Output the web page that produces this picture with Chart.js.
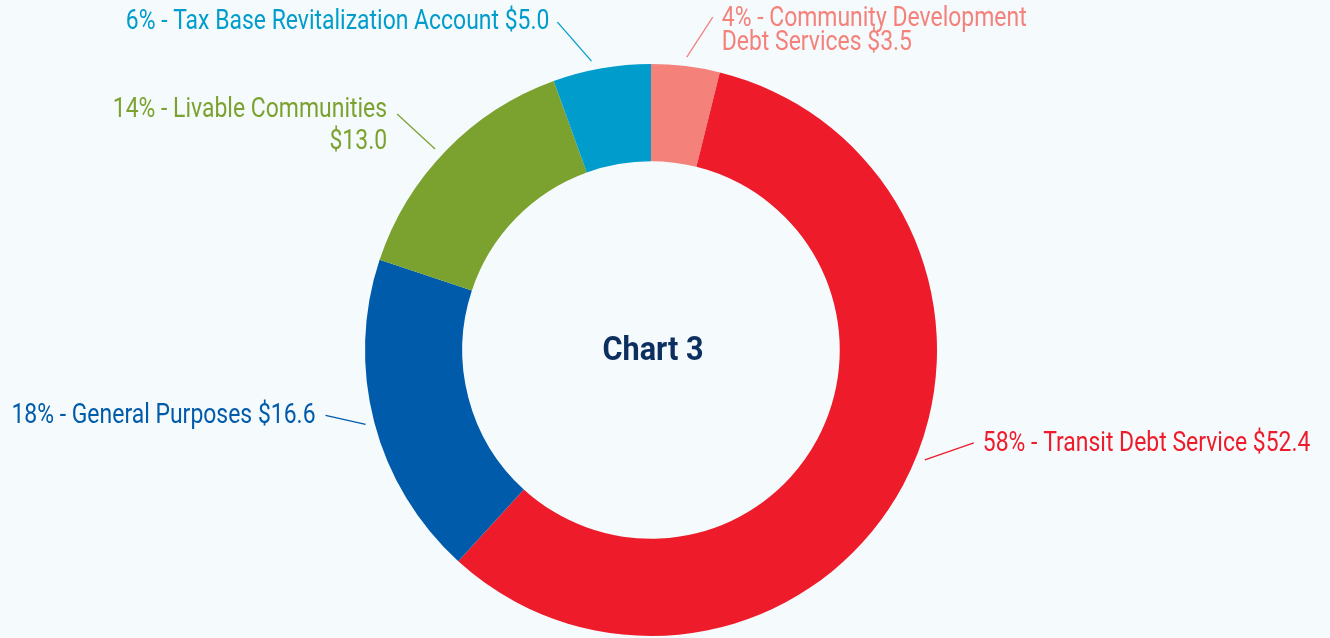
<!DOCTYPE html>
<html lang="en">
<head>
    <meta charset="UTF-8">
    <title>Chart 3</title>
    <script src="https://cdn.jsdelivr.net/npm/chart.js"></script>
    <style>
        * {
            margin: 0;
            padding: 0;
            box-sizing: border-box;
        }
        body {
            background-color: #f5fafd;
            width: 1330px;
            height: 638px;
            overflow: hidden;
        }
        .chart-container {
            position: relative;
            width: 1330px;
            height: 638px;
        }
    </style>
</head>
<body>
    <div class="chart-container">
        <canvas id="donutChart"></canvas>
    </div>

    <script>
        // data ($ millions), clockwise from the top
        const categories = ['Community Development Debt Services', 'Transit Debt Service', 'General Purposes', 'Livable Communities', 'Tax Base Revitalization Account'];
        const values = [3.5, 52.4, 16.6, 13.0, 5.0];
        const colors = ['#f4827b', '#ee1c2b', '#005baa', '#7ba22f', '#009dcc'];

        // label layout: leader line vector, text offset from line end, words on first line
        const labelLayout = [
            { rot: 0, dx: 26, dy: -40, tx: 9, ty: 2, align: 'left', wrap: 4, lh: 24 },
            { rot: -6.3, dx: 49, dy: -17, tx: 9, ty: 1, align: 'left', wrap: 0, lh: 0 },
            { rot: 0, dx: -40, dy: -9, tx: -10, ty: 1, align: 'right', wrap: 0, lh: 0 },
            { rot: -1.3, dx: -38, dy: -35, tx: -10, ty: -4, align: 'right', wrap: 4, lh: 32 },
            { rot: -1.7, dx: -34, dy: -39, tx: -8, ty: 0, align: 'right', wrap: 0, lh: 0 }
        ];

        const total = values.reduce((a, b) => a + b, 0);
        const labelFont = '27px Roboto, "Noto Sans", sans-serif';
        const titleFont = 'bold 34px Roboto, "Noto Sans", sans-serif';

        // narrow the glyphs so they look like a condensed face
        function fillNarrow(ctx, text, x, y, sq) {
            ctx.save();
            ctx.translate(x, y);
            ctx.scale(sq, 1);
            ctx.fillText(text, 0, 0);
            ctx.restore();
        }

        // draws the leader lines, the outside labels and the centre title
        const calloutPlugin = {
            id: 'callouts',
            afterDatasetsDraw(chart) {
                const ctx = chart.ctx;
                const arcs = chart.getDatasetMeta(0).data;
                ctx.save();
                arcs.forEach((arc, i) => {
                    const p = arc.getProps(['x', 'y', 'startAngle', 'endAngle', 'outerRadius'], true);
                    const lay = labelLayout[i];
                    const mid = (p.startAngle + p.endAngle) / 2 + lay.rot * Math.PI / 180;
                    const r = p.outerRadius + 9;
                    const sx = p.x + Math.cos(mid) * r;
                    const sy = p.y + Math.sin(mid) * r;
                    const ex = sx + lay.dx;
                    const ey = sy + lay.dy;

                    ctx.strokeStyle = colors[i];
                    ctx.lineWidth = 1.3;
                    ctx.beginPath();
                    ctx.moveTo(sx, sy);
                    ctx.lineTo(ex, ey);
                    ctx.stroke();

                    const pct = Math.round(values[i] / total * 100);
                    const text = pct + '% - ' + categories[i] + ' $' + values[i].toFixed(1);
                    let lines = [text];
                    if (lay.wrap) {
                        const words = text.split(' ');
                        lines = [words.slice(0, lay.wrap).join(' '), words.slice(lay.wrap).join(' ')];
                    }
                    ctx.font = labelFont;
                    ctx.fillStyle = colors[i];
                    ctx.textAlign = lay.align;
                    ctx.textBaseline = 'middle';
                    lines.forEach((ln, k) => {
                        fillNarrow(ctx, ln, ex + lay.tx, ey + lay.ty + k * lay.lh, 0.85);
                    });
                });

                const c = arcs[0];
                ctx.font = titleFont;
                ctx.fillStyle = '#0c2f5f';
                ctx.textAlign = 'center';
                ctx.textBaseline = 'middle';
                fillNarrow(ctx, 'Chart 3', c.x + 2, c.y + 1, 0.9);
                ctx.restore();
            }
        };

        new Chart(document.getElementById('donutChart'), {
            type: 'doughnut',
            data: {
                labels: categories,
                datasets: [{
                    data: values,
                    backgroundColor: colors,
                    borderWidth: 0
                }]
            },
            options: {
                responsive: true,
                maintainAspectRatio: false,
                animation: false,
                cutout: '66%',
                layout: {
                    padding: { top: 64, bottom: 2, left: 0, right: 28 }
                },
                plugins: {
                    legend: { display: false },
                    tooltip: { enabled: false }
                }
            },
            plugins: [calloutPlugin]
        });
    </script>
</body>
</html>
